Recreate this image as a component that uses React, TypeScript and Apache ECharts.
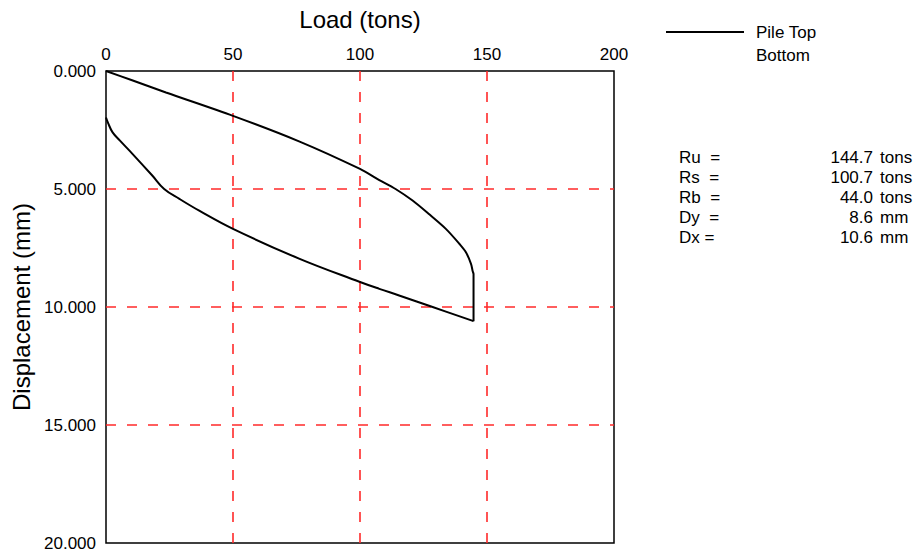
import React, { useEffect, useRef } from "react";
import * as echarts from "echarts";

const xTicks = [0, 50, 100, 150, 200];
const yTicks = [0, 5, 10, 15, 20];

// Pile top load-displacement curve: loading branch
const loadingLoad = [0, 10, 23.6, 50, 76, 100, 107.6, 114, 120.7, 127, 133.8, 139.1, 141.7, 143.7, 144.4, 144.7, 144.7];
const loadingDisp = [0, 0.38, 0.91, 1.9, 2.98, 4.15, 4.62, 5.0, 5.49, 6.05, 6.69, 7.32, 7.68, 8.17, 8.5, 8.6, 10.6];
// Pile top load-displacement curve: unloading branch
const unloadingLoad = [144.7, 128.6, 115.4, 107.6, 100, 76, 50, 36.7, 28.9, 22.9, 18.3, 10.5, 5.5, 2.6, 0.8, 0];
const unloadingDisp = [10.6, 10.0, 9.51, 9.23, 8.94, 7.95, 6.69, 5.92, 5.42, 5.0, 4.44, 3.52, 2.95, 2.6, 2.2, 1.97];

const statLabels = ["Ru  =", "Rs  =", "Rb  =", "Dy  =", "Dx ="];
const statValues = ["144.7", "100.7", "44.0", "8.6", "10.6"];
const statUnits = ["tons", "tons", "tons", "mm", "mm"];

const FONT = "'Liberation Sans', Arial, Helvetica, sans-serif";

export default function App() {
  const ref = useRef<HTMLDivElement>(null);

  useEffect(() => {
    if (!ref.current) return;
    const chart = echarts.init(ref.current, null, { renderer: "svg" });

    const graphics: any[] = [];
    statLabels.forEach((lab, i) => {
      const y = 157 + i * 20;
      graphics.push({
        type: "text",
        x: 679,
        y,
        style: { text: lab, fill: "#000", font: `17px ${FONT}`, textAlign: "left", textVerticalAlign: "middle" },
      });
      graphics.push({
        type: "text",
        x: 873,
        y,
        style: { text: statValues[i], fill: "#000", font: `17px ${FONT}`, textAlign: "right", textVerticalAlign: "middle" },
      });
      graphics.push({
        type: "text",
        x: 880,
        y,
        style: { text: statUnits[i], fill: "#000", font: `17px ${FONT}`, textAlign: "left", textVerticalAlign: "middle" },
      });
    });

    const splitRed = {
      show: true,
      showMinLine: false,
      showMaxLine: false,
      lineStyle: { color: "#ff2a2a", type: [10, 11] as any, width: 1.6 },
    };

    const lineSeries = (name: string, xs: number[], ys: number[], smooth: number) => ({
      name,
      type: "line",
      showSymbol: false,
      symbol: "none",
      smooth,
      lineStyle: { color: "#000", width: 2 },
      itemStyle: { color: "#000" },
      data: xs.map((x, i) => [x, ys[i]]),
    });

    chart.setOption({
      animation: false,
      backgroundColor: "#fff",
      textStyle: { fontFamily: FONT },
      grid: {
        left: 106,
        top: 71,
        width: 508,
        height: 472,
        containLabel: false,
        show: true,
        borderColor: "#000",
        borderWidth: 1.5,
        backgroundColor: "transparent",
      },
      legend: {
        orient: "vertical",
        left: 661,
        top: 17,
        itemWidth: 78,
        itemHeight: 14,
        itemGap: 3,
        textStyle: { fontSize: 17, color: "#000", fontFamily: FONT, lineHeight: 20, padding: [0, 0, 0, 7] },
        data: [
          { name: "Pile Top", icon: "path://M0,0H100V2.4H0Z" },
          { name: "Bottom", icon: "path://M0,0H100V2.4H0Z", itemStyle: { opacity: 0 } },
        ],
      },
      xAxis: {
        type: "value",
        position: "top",
        min: xTicks[0],
        max: xTicks[xTicks.length - 1],
        interval: 50,
        name: "Load (tons)",
        nameLocation: "middle",
        nameGap: 40,
        nameTextStyle: { fontSize: 24, color: "#000", fontFamily: FONT },
        axisLine: { show: false },
        axisTick: { show: false },
        axisLabel: { fontSize: 17, color: "#000", margin: 8, fontFamily: FONT },
        splitLine: splitRed,
      },
      yAxis: {
        type: "value",
        inverse: true,
        position: "left",
        min: yTicks[0],
        max: yTicks[yTicks.length - 1],
        interval: 5,
        name: "Displacement (mm)",
        nameLocation: "middle",
        nameGap: 58,
        nameTextStyle: { fontSize: 24, color: "#000", fontFamily: FONT },
        axisLine: { show: false },
        axisTick: { show: false },
        axisLabel: {
          fontSize: 17,
          color: "#000",
          margin: 10,
          fontFamily: FONT,
          formatter: (v: number) => v.toFixed(3),
        },
        splitLine: splitRed,
      },
      series: [
        lineSeries("Pile Top", loadingLoad, loadingDisp, 0.3),
        lineSeries("Pile Top", unloadingLoad, unloadingDisp, 0.4),
        {
          name: "Bottom",
          type: "line",
          showSymbol: false,
          symbol: "none",
          lineStyle: { color: "#000", width: 2 },
          data: [],
        },
      ],
      graphic: graphics,
    });

    return () => chart.dispose();
  }, []);

  return <div ref={ref} style={{ width: 915, height: 555, position: "absolute", left: 0, top: 0 }} />;
}
